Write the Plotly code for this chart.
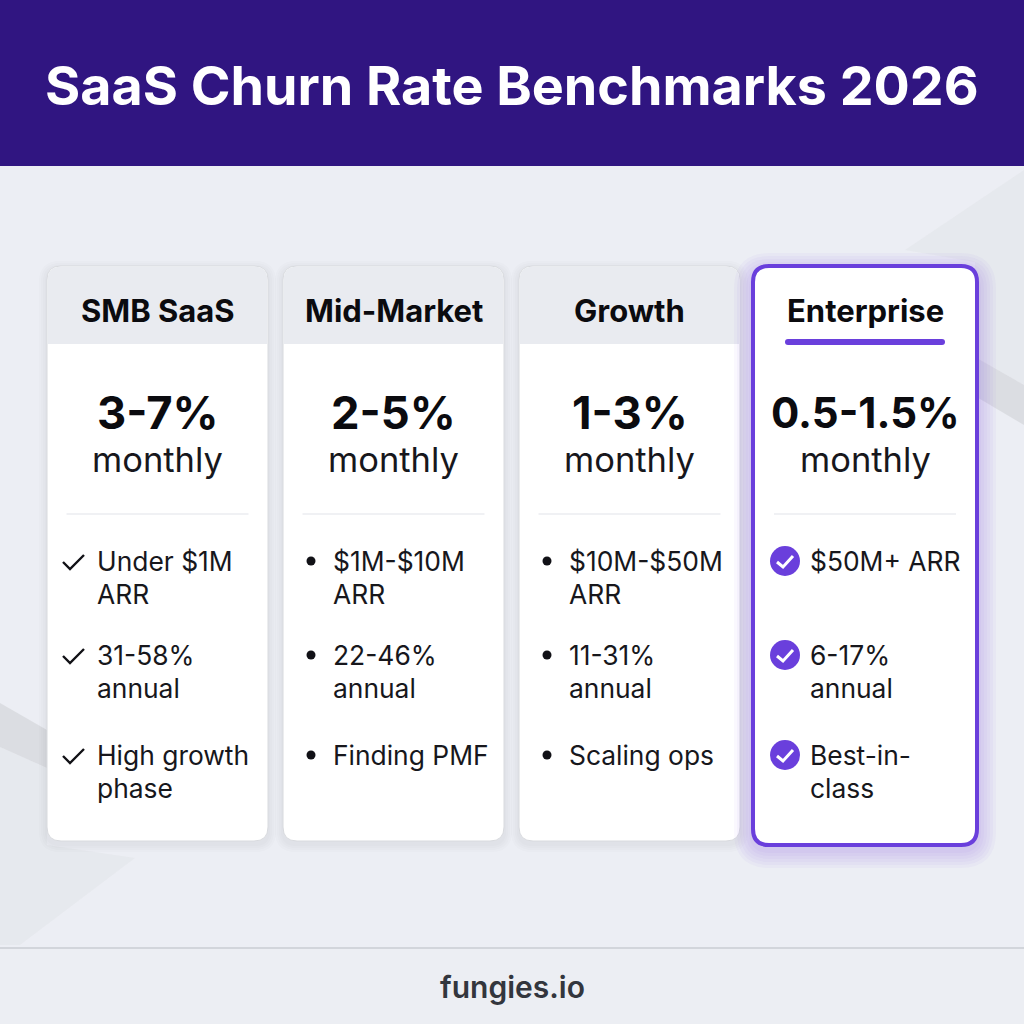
import plotly.graph_objects as go

title = "SaaS Churn Rate Benchmarks 2026"
footer = "fungies.io"
tiers = ["SMB SaaS", "Mid-Market", "Growth", "Enterprise"]
ranges = ["3-7%", "2-5%", "1-3%", "0.5-1.5%"]
period = "monthly"
bullets = [
    [["Under $1M", "ARR"], ["31-58%", "annual"], ["High growth", "phase"]],
    [["$1M-$10M", "ARR"], ["22-46%", "annual"], ["Finding PMF"]],
    [["$10M-$50M", "ARR"], ["11-31%", "annual"], ["Scaling ops"]],
    [["$50M+ ARR"], ["6-17%", "annual"], ["Best-in-", "class"]],
]
marker_style = ["check", "dot", "dot", "badge"]

FONT = "Inter"
PURPLE = "#6a3fdc"
card_left = [47, 283, 519, 754]
card_right = [268, 504, 740, 976]
bullet_rows = [561, 655, 755]
LINE_GAP = 33.5


def rrect(x0, y0, x1, y1, r):
    return (f"M{x0+r},{y0} L{x1-r},{y0} Q{x1},{y0} {x1},{y0+r} L{x1},{y1-r} Q{x1},{y1} {x1-r},{y1} "
            f"L{x0+r},{y1} Q{x0},{y1} {x0},{y1-r} L{x0},{y0+r} Q{x0},{y0} {x0+r},{y0} Z")


def top_rrect(x0, y0, x1, y1, r):
    return (f"M{x0+r},{y0} L{x1-r},{y0} Q{x1},{y0} {x1},{y0+r} L{x1},{y1} L{x0},{y1} "
            f"L{x0},{y0+r} Q{x0},{y0} {x0+r},{y0} Z")


shapes = []
annotations = []


def add_path(path, fill, line=None, width=0):
    shapes.append(dict(type="path", path=path, fillcolor=fill, xref="x", yref="y", layer="below",
                       line=dict(color=line or "rgba(0,0,0,0)", width=width)))


def add_rect(x0, y0, x1, y1, fill):
    shapes.append(dict(type="rect", x0=x0, y0=y0, x1=x1, y1=y1, fillcolor=fill, xref="x", yref="y",
                       layer="below", line=dict(width=0)))


def label(x, y, text, size, color="#0b0b0f", weight=400, anchor="center"):
    annotations.append(dict(x=x, y=y, text=text, xref="x", yref="y", showarrow=False, xanchor=anchor,
                            yanchor="middle", font=dict(family=FONT, size=size, color=color, weight=weight)))


# background and its faint diagonal bands
add_rect(0, 166, 1024, 948, "#eceef4")
add_path("M905,250 L1024,170 L1024,385 L975,357 L975,262 Z", "rgba(222,223,226,0.35)")
add_path("M975,357 L1024,385 L1024,425 L975,396 Z", "rgba(208,210,214,0.6)")
add_path("M0,703 L47,730 L47,768 L0,747 Z", "rgba(208,210,214,0.6)")
add_path("M0,747 L47,768 L47,845 L135,858 L20,945 L0,945 Z", "rgba(222,223,226,0.35)")
add_rect(0, 948, 1024, 1024, "#eceef3")
add_rect(0, 947, 1024, 949, "#d2d5db")
add_rect(0, 0, 1024, 166, "#301581")

for i, name in enumerate(tiers):
    x0, x1 = card_left[i], card_right[i]
    mid = (x0 + x1) / 2
    badge = marker_style[i] == "badge"
    if badge:
        # purple glow round the highlighted card
        for grow in [18, 15, 12, 9, 6, 3]:
            add_path(rrect(x0 - 2 - grow, 266 - grow + 5, x1 + 2 + grow, 845 + grow + 5, 18 + grow),
                     "rgba(106,63,220,0.035)")
        add_path(rrect(x0 - 1, 266, x1 + 1, 845, 16), "#ffffff", PURPLE, 4)
        add_path(rrect(mid - 80, 339, mid + 80, 345, 3), PURPLE)
    else:
        for grow in [8, 6, 4, 2]:
            add_path(rrect(x0 - grow, 266 - grow + 3, x1 + grow, 841 + grow + 3, 13 + grow),
                     "rgba(70,72,80,0.016)")
        add_path(rrect(x0, 266, x1, 841, 14), "#ffffff", "#d8dade", 1)
        add_path(top_rrect(x0 + 0.5, 266.5, x1 - 0.5, 344, 14), "#e9ebf0")
    add_rect(mid - 91, 513.5, mid + 91, 514.5, "#e2e4ea")

    label(mid, 310, name, 31, weight=700)
    label(mid, 412, ranges[i], 42 if badge else 45.3, weight=700)
    label(mid, 459.5, period, 34.5, color="#17171c")

    text_x = x0 + 48 if not badge else x0 + 54
    for row, lines in zip(bullet_rows, bullets[i]):
        for k, line in enumerate(lines):
            label(text_x, row - 0.5 + k * LINE_GAP, line, 26.4, color="#17171c", anchor="left")
        if marker_style[i] == "check":
            cx = x0 + 27
            shapes.append(dict(type="path", path=f"M{cx-11},{row+1} L{cx-4},{row+8} L{cx+10},{row-6}",
                               xref="x", yref="y", line=dict(color="#111116", width=2.4)))
        elif marker_style[i] == "dot":
            cx = x0 + 28
            shapes.append(dict(type="circle", x0=cx-4.5, x1=cx+4.5, y0=row-4.5, y1=row+4.5, xref="x", yref="y",
                               fillcolor="#111116", line=dict(width=0)))
        else:
            cx = x0 + 31
            shapes.append(dict(type="circle", x0=cx-15, x1=cx+15, y0=row-15, y1=row+15, xref="x", yref="y",
                               fillcolor=PURPLE, line=dict(width=0)))
            shapes.append(dict(type="path", path=f"M{cx-8},{row+1} L{cx-2},{row+6} L{cx+8},{row-5}",
                               xref="x", yref="y", line=dict(color="#ffffff", width=3)))

label(512, 85, title, 53.8, color="#ffffff", weight=700)
label(512, 987, footer, 30, color="#33363d", weight=600)

fig = go.Figure()
fig.update_layout(
    width=1024, height=1024, margin=dict(l=0, r=0, t=0, b=0),
    paper_bgcolor="#eceef4", plot_bgcolor="rgba(0,0,0,0)",
    xaxis=dict(range=[0, 1024], visible=False, fixedrange=True),
    yaxis=dict(range=[1024, 0], visible=False, fixedrange=True),
    shapes=shapes, annotations=annotations, showlegend=False,
)
fig.write_html("out.html", post_script="document.body.style.margin='0';", config={"displayModeBar": False})
